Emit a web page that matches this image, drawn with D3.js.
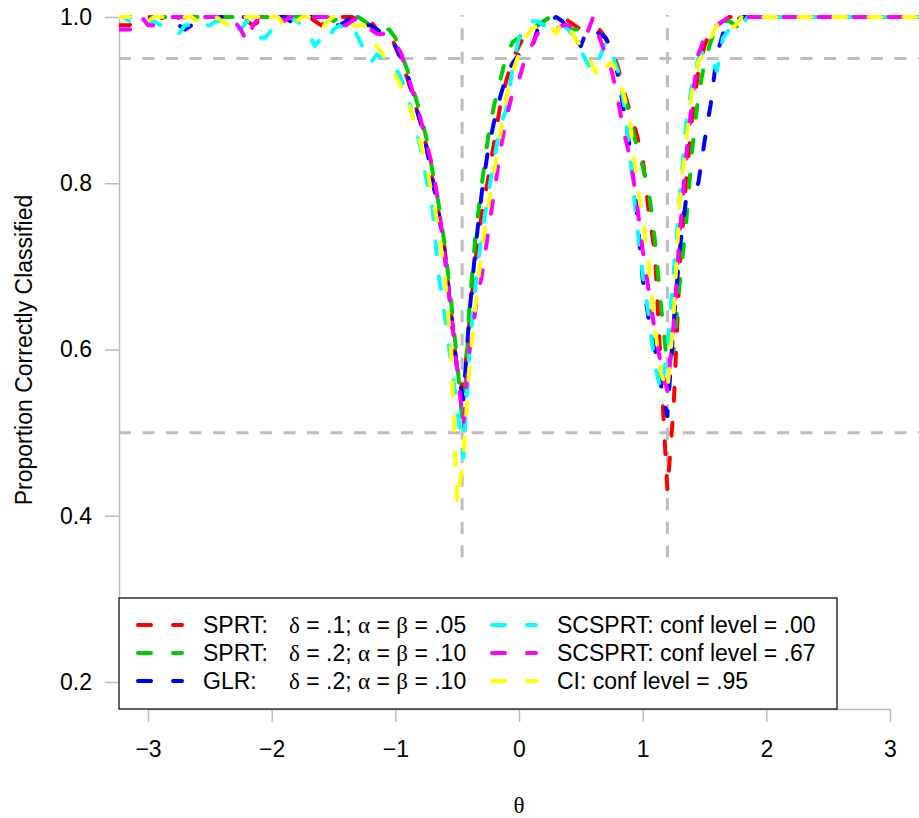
<!DOCTYPE html>
<html><head><meta charset="utf-8">
<script src="https://cdn.jsdelivr.net/npm/d3@7"></script>
<style>body{margin:0;background:#fff}text{font-family:"Liberation Sans",Arial,sans-serif}</style>
</head><body>
<svg id="chart" width="919" height="818"></svg>
<script>
const theta = [-3.25,-3.2,-3.15,-3.1,-3.05,-3,-2.95,-2.9,-2.85,-2.8,-2.75,-2.7,-2.65,-2.6,-2.55,-2.5,-2.45,-2.4,-2.35,-2.3,
-2.25,-2.2,-2.15,-2.1,-2.05,-2,-1.95,-1.9,-1.85,-1.8,-1.75,-1.7,-1.65,-1.6,-1.55,-1.5,-1.45,-1.4,-1.35,
-1.3,-1.25,-1.2,-1.15,-1.1,-1.05,-1,-0.95,-0.9,-0.85,-0.8,-0.75,-0.7,-0.65,-0.6,-0.55,-0.5,-0.45,-0.4,-0.35,
-0.3,-0.25,-0.2,-0.15,-0.1,-0.05,0,0.05,0.1,0.15,
0.2,0.25,0.3,0.35,0.4,0.45,0.5,0.55,0.6,0.65,0.7,0.75,0.8,0.85,0.9,0.95,1,1.05,1.1,1.15,1.2,1.25,1.3,1.35,1.4,1.45,
1.5,1.55,1.6,1.65,1.7,1.75,1.8,
1.85,1.9,1.95,2,2.05,2.1,2.15,2.2,2.25,2.3,2.35,2.4,2.45,2.5,2.55,2.6,2.65,2.7,2.75,2.8,2.85,2.9,2.95,3,3.05,3.1,3.15,3.2,3.25];

const sprt1 = [0.99,0.99,0.99,0.995,1,1,1,1,0.995,0.99, 1,1,1,1,1,1,1,1,1,1, 1,0.995,0.99,0.995,1,1,1,1,1,1, 1,1,0.995,0.99,0.995,1,1,1,1,
0.995,0.99,0.995,0.985,0.975,0.98,0.965,0.945,0.925,0.90, 0.875,0.845,0.805,0.765,0.72,0.645,0.575,0.55,0.635,0.71, 0.765,0.805,0.85,0.895,0.925,0.95,0.965,0.98,0.985,0.99,
0.995,1,1,1,0.995,0.99,0.985,0.985,0.985,0.985, 0.975,0.96,0.94,0.91,0.885,0.86,0.83,0.765,0.715,0.57, 0.43,0.53,0.70,0.80,0.88,0.935,0.965,0.985,0.99,0.995, 1,1,1,
1,1,1,1,1,1,1,1,1,1, 1,1,1,1,1,1,1,1,1,1, 1,1,1,1,1,1,1,1,1];

const sprt2 = [1,1,1,1,1,1,1,1,1,1, 0.995,1,1,1,1,1,1,1,1,1, 1,1,1,1,1,1,1,1,1,1, 1,1,1,1,1,0.995,1,1,1,
1,0.995,0.99,0.99,0.985,0.985,0.975,0.955,0.935,0.91, 0.885,0.855,0.815,0.775,0.725,0.66,0.585,0.50,0.655,0.74, 0.80,0.855,0.895,0.925,0.955,0.97,0.975,0.985,0.985,0.99,
0.995,1,1,0.995,0.985,0.985,0.985,0.985,0.985,0.98, 0.975,0.96,0.935,0.905,0.88,0.845,0.82,0.79,0.73,0.65, 0.58,0.60,0.68,0.75,0.84,0.905,0.945,0.97,0.99,0.995, 0.995,0.99,0.985,
1,1,1,1,1,1,1,1,1,1, 1,1,1,1,1,1,1,1,1,1, 1,1,1,1,1,1,1,1,1];

const glr = [1,1,1,1,1,0.995,1,1,1,1, 0.99,0.985,0.99,1,1,1,1,1,1,1, 1,1,1,1,1,1,1,1,0.995,0.99, 1,1,1,1,1,0.99,0.99,0.995,1,
0.995,0.99,0.99,0.985,0.98,0.975,0.965,0.95,0.93,0.90, 0.875,0.845,0.805,0.765,0.715,0.645,0.575,0.54,0.645,0.725, 0.79,0.84,0.875,0.905,0.93,0.945,0.955,0.96,0.96,0.985,
0.99,0.995,1,0.995,0.985,0.975,0.965,0.985,0.985,0.98, 0.975,0.96,0.93,0.885,0.84,0.77,0.685,0.635,0.60,0.555, 0.52,0.63,0.72,0.78,0.79,0.80,0.85,0.895,0.955,0.98, 0.99,0.995,1,
1,1,1,1,1,1,1,1,1,1, 1,1,1,1,1,1,1,1,1,1, 1,1,1,1,1,1,1,1,1];

const scsprt00 = [1,1,0.995,0.99,0.99,0.99,0.995,0.99,0.985,0.98, 0.98,0.99,0.99,0.995,0.99,0.99,0.995,0.995,0.99,0.985, 0.985,0.995,0.99,0.975,0.975,0.985,0.99,0.995,1,0.995, 0.99,0.98,0.965,0.975,0.97,0.985,0.99,0.985,0.99,
0.975,0.96,0.945,0.955,0.95,0.945,0.94,0.925,0.905,0.875, 0.845,0.805,0.77,0.69,0.64,0.585,0.53,0.47,0.60,0.68, 0.74,0.785,0.83,0.87,0.89,0.94,0.975,0.99,0.995,0.995,
0.99,0.99,0.985,0.99,0.985,0.975,0.96,0.945,0.935,0.95, 0.97,0.955,0.935,0.895,0.83,0.755,0.69,0.64,0.58,0.55, 0.60,0.69,0.785,0.87,0.92,0.95,0.96,0.95,0.935,0.975, 0.985,0.99,0.99,
1,1,1,1,1,1,1,1,1,1, 1,1,1,1,1,1,1,1,1,1, 1,1,1,1,1,1,1,1,1];

const scsprt67 = [0.985,0.985,0.985,0.985,1,0.99,0.99,0.995,1,1, 1,1,0.995,1,1,1,1,1,1,0.995, 0.985,0.97,0.99,1,1,1,1,0.995,1,1, 1,1,1,1,1,1,0.99,0.99,0.995,
1,0.99,0.985,0.98,0.98,0.975,0.97,0.955,0.93,0.905, 0.88,0.85,0.82,0.775,0.71,0.645,0.575,0.51,0.60,0.65, 0.69,0.74,0.79,0.84,0.88,0.91,0.925,0.95,0.965,0.98,
0.985,0.985,0.985,0.99,0.99,0.985,0.98,0.98,1,0.975, 0.955,0.935,0.90,0.86,0.83,0.78,0.72,0.67,0.62,0.58, 0.55,0.63,0.74,0.83,0.90,0.955,0.975,0.985,0.99,0.995, 1,1,1,
1,1,1,1,1,1,1,1,1,1, 1,1,1,1,1,1,1,1,1,1, 1,1,1,1,1,1,1,1,1];

const ci95 = [1,1,1,1,1,0.995,1,1,1,1, 1,1,1,0.995,1,1,1,0.995,0.99,1, 1,1,1,1,0.99,1,1,0.99,0.985,0.995, 1,1,0.995,0.985,0.995,1,1,0.995,0.99,
0.99,0.99,0.975,0.965,0.955,0.94,0.93,0.915,0.90,0.875, 0.85,0.82,0.785,0.745,0.69,0.60,0.415,0.47,0.58,0.655, 0.72,0.77,0.815,0.86,0.905,0.935,0.955,0.975,0.985,0.99,
0.995,0.99,0.98,0.995,0.99,0.975,0.965,0.955,0.94,0.925, 0.94,0.945,0.93,0.905,0.87,0.805,0.76,0.70,0.625,0.57, 0.55,0.64,0.78,0.85,0.91,0.945,0.96,0.975,0.99,0.995, 0.985,0.99,1,
1,1,1,1,1,1,1,1,1,1, 1,1,1,1,1,1,1,1,1,1, 1,1,1,1,1,1,1,1,1];

const seriesNames = ["SPRT1","SPRT2","GLR","SCSPRT00","SCSPRT67","CI95"];
const seriesValues = [sprt1, sprt2, glr, scsprt00, scsprt67, ci95];
const seriesColors = ["#FF0000","#00CD00","#0000FF","#00FFFF","#FF00FF","#FFFF00"];
const xTicks = [-3,-2,-1,0,1,2,3];
const yTicks = [0.2,0.4,0.6,0.8,1.0];
const hRefs = [0.95, 0.5];
const vRefs = [-0.46, 1.2];
const vRefRange = [0.35, 1.0];

seriesValues.forEach((s,i)=>{ if(s.length!==theta.length) console.error(seriesNames[i]+" length "+s.length); });

const svg = d3.select("#chart");
const x = d3.scaleLinear().domain([-3,3]).range([148,890]);
const y = d3.scaleLinear().domain([0.2,1.0]).range([682,17]);
const plotL = 119, plotR = 920, plotB = 709;
const grey = "#bebebe";

svg.append("defs").append("clipPath").attr("id","clip")
  .append("rect").attr("x",plotL).attr("y",-20).attr("width",plotR-plotL).attr("height",plotB+20);

// reference lines
const ref = svg.append("g").attr("stroke",grey).attr("stroke-width",3).attr("stroke-dasharray","12,11.5").attr("fill","none");
hRefs.forEach(v=>ref.append("line").attr("x1",plotL).attr("x2",plotR).attr("y1",y(v)).attr("y2",y(v)));
vRefs.forEach(t=>ref.append("line").attr("x1",x(t)).attr("x2",x(t)).attr("y1",y(vRefRange[0])).attr("y2",y(vRefRange[1])-2));

// axes
const fs = 23;
const xAxis = svg.append("g").attr("transform",`translate(0,${plotB})`)
  .call(d3.axisBottom(x).tickValues(xTicks).tickSize(13).tickSizeOuter(0).tickPadding(19).tickFormat(d3.format("d")));
const yAxis = svg.append("g").attr("transform",`translate(${plotL},0)`)
  .call(d3.axisLeft(y).tickValues(yTicks).tickSize(14).tickSizeOuter(0).tickPadding(13).tickFormat(d3.format(".1f")));
[xAxis,yAxis].forEach(a=>{
  a.select(".domain").attr("stroke",grey).attr("stroke-width",1.5);
  a.selectAll(".tick line").attr("stroke",grey).attr("stroke-width",1.5);
  a.selectAll(".tick text").attr("fill","#000").style("font-size",fs+"px").style("font-family","'Liberation Sans',Arial,sans-serif");
});

// series
const line = d3.line().x((d,i)=>x(theta[i])).y(d=>y(d));
const lg = svg.append("g").attr("clip-path","url(#clip)");
seriesValues.forEach((s,i)=>{
  lg.append("path").datum(s).attr("d",line).attr("fill","none")
    .attr("stroke",seriesColors[i]).attr("stroke-width",4)
    .attr("stroke-dasharray","13,22").attr("stroke-linecap","round").attr("stroke-linejoin","round");
});

// axis titles
svg.append("text").attr("transform","translate(32,350) rotate(-90)").attr("text-anchor","middle")
  .style("font-size",fs+"px").text("Proportion Correctly Classified");
svg.append("text").attr("x",519).attr("y",813).attr("text-anchor","middle")
  .style("font-family","'Liberation Serif','Times New Roman',serif").style("font-size",fs+"px").text("θ");

// legend
const leg = svg.append("g");
leg.append("rect").attr("x",plotL).attr("y",598).attr("width",718).attr("height",plotB-598)
  .attr("fill","#fff").attr("stroke","#000").attr("stroke-width",1.2);
const rowsY = [625,653,681];
const legendItems = [
  {c:0, r:0, label:"SPRT:", greek:[["δ",1],[" = .1; ",0],["α",1],[" = ",0],["β",1],[" = .05",0]]},
  {c:0, r:1, label:"SPRT:", greek:[["δ",1],[" = .2; ",0],["α",1],[" = ",0],["β",1],[" = .10",0]]},
  {c:0, r:2, label:"GLR:", greek:[["δ",1],[" = .2; ",0],["α",1],[" = ",0],["β",1],[" = .10",0]]},
  {c:1, r:0, label:"SCSPRT: conf level = .00"},
  {c:1, r:1, label:"SCSPRT: conf level = .67"},
  {c:1, r:2, label:"CI: conf level = .95"}
];
const colLineX = [[138,182],[492,536]];
const colTextX = [203,557];
legendItems.forEach((it,i)=>{
  const yy = rowsY[it.r];
  leg.append("line").attr("x1",colLineX[it.c][0]).attr("x2",colLineX[it.c][1]).attr("y1",yy).attr("y2",yy)
    .attr("stroke",seriesColors[i]).attr("stroke-width",4).attr("stroke-dasharray","13,22").attr("stroke-linecap","round");
  leg.append("text").attr("x",colTextX[it.c]).attr("y",yy).attr("dy","0.36em").style("font-size",fs+"px").text(it.label);
  if(it.greek){
    const t = leg.append("text").attr("x",289).attr("y",yy).attr("dy","0.36em").style("font-size",fs+"px");
    it.greek.forEach(([s,g])=>{
      const sp = t.append("tspan").text(s);
      if(g) sp.style("font-family","'Liberation Serif','DejaVu Serif',serif");
    });
  }
});
</script>
</body></html>
